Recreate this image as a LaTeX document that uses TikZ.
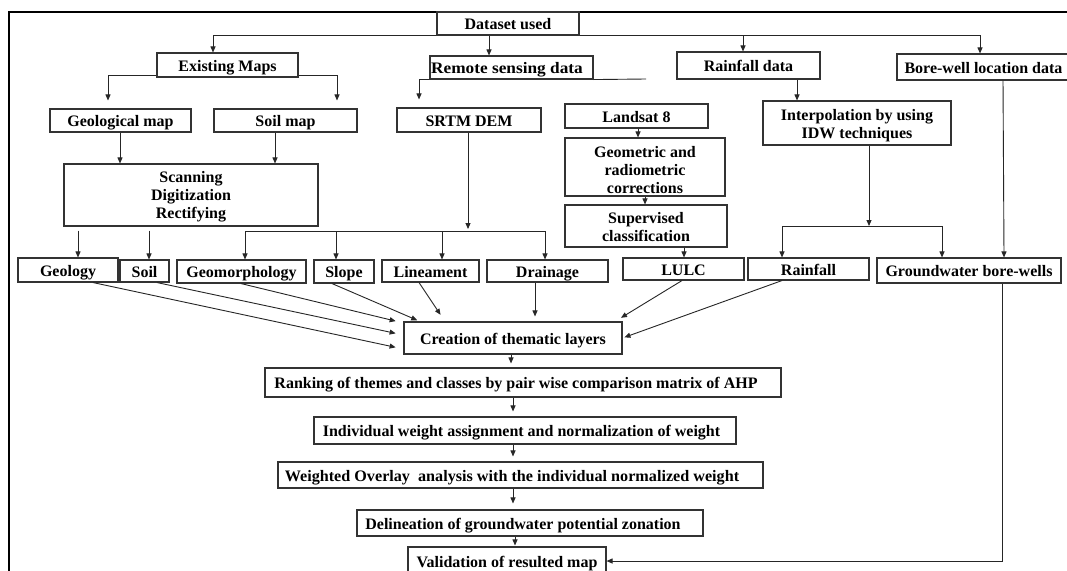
\documentclass[tikz,border=0pt]{standalone}
\usepackage{fontspec}
\setmainfont{Liberation Serif}
\usetikzlibrary{arrows.meta,calc}
\tikzset{
  box/.style={draw=black!80, line width=1.1pt, inner sep=0pt, align=center,
    font=\fontsize{16}{18}\selectfont\bfseries},
  one/.style={text height=14pt, text depth=2pt},
  ln/.style={draw=black!85, line width=0.9pt},
  arr/.style={ln, -{Triangle[length=6pt,width=5pt]}},
}
% single-line box
\newcommand{\bx}[6]{\node[box, one, minimum width={(#4)-(#2)}, minimum height={(#5)-(#3)}] (#1) at ({((#2)+(#4))/2},{((#3)+(#5))/2}) {#6};}
% multi-line box
\newcommand{\bm}[6]{\node[box, minimum width={(#4)-(#2)}, minimum height={(#5)-(#3)}] (#1) at ({((#2)+(#4))/2},{((#3)+(#5))/2}) {#6};}
\begin{document}
\begin{tikzpicture}[x=1pt,y=-1pt]
\useasboundingbox (0,0) rectangle (1067,570);
\fill[white] (0,0) rectangle (1067,570);
\clip (0,0) rectangle (1067,570);
% frame
\draw[line width=2.6pt, black] (9,575) -- (9,12) -- (1070,12);
% boxes
\bx{ds}{437}{12}{579}{35}{Dataset used}
\bx{exist}{157}{53}{298}{77}{Existing Maps}
\bx{remote}{430}{56}{593}{79}{\scalebox{1.08}[1]{Remote sensing data}\hspace*{9pt}}
\bx{rdata}{677}{52}{820}{79}{Rainfall data}
\bx{bore}{897}{54}{1070}{80}{Bore-well location data}
\bx{geomap}{50}{109}{191}{132}{Geological map}
\bx{soilmap}{214}{109}{357}{132}{Soil map}
\bx{srtm}{397}{108}{541}{132}{SRTM DEM}
\bx{landsat}{565}{104}{708}{128}{Landsat 8}
\bm{interp}{763}{101}{951}{145}{\rule{0pt}{16pt}Interpolation by using\\IDW techniques}
\bm{scan}{64}{164}{318}{226}{\rule{0pt}{15pt}Scanning\\Digitization\\Rectifying}
\bm{geomc}{565}{138}{725}{196}{\rule{0pt}{18pt}Geometric and\\radiometric\\corrections}
\bm{superv}{565}{205}{727}{247}{\rule{0pt}{14pt}Supervised\\classification}
\bx{geology}{18}{258}{118}{282}{Geology}
\bx{soil}{120}{260}{169}{282}{Soil}
\bx{geomorph}{177}{260}{306}{283}{Geomorphology}
\bx{slope}{314}{260}{374}{283}{Slope}
\bx{linea}{382}{260}{479}{282}{Lineament}
\bx{drain}{487}{260}{608}{282}{Drainage}
\bx{lulc}{623}{258}{744}{280}{LULC}
\bx{rain}{748}{258}{869}{280}{Rainfall}
\bx{gw}{877}{258}{1061}{283}{Groundwater bore-wells}
\bx{create}{404}{322}{622}{354}{Creation of thematic layers}
\bx{rank}{265}{368}{781}{397}{Ranking of themes and classes by pair wise comparison matrix of AHP\hspace*{14pt}}
\bx{indiv}{314}{417}{736}{444}{Individual weight assignment and normalization of weight\hspace*{7pt}}
\bx{wover}{278}{462}{763}{488}{\scalebox{1.01}[1]{Weighted Overlay\ \ analysis with the individual normalized weight}\hspace*{17pt}}
\bx{delin}{357}{510}{703}{536}{Delineation of groundwater potential zonation\hspace*{14pt}}
\bx{valid}{408}{547}{606}{575}{Validation of resulted map}
% coordinates
\coordinate (rext) at (646,79);
\coordinate (isplit) at (869,226);
\coordinate (ssplit) at (468,231);
\coordinate (vc) at (1002,561);
% dataset branches
\draw[arr] (ds.south west) -| (exist.north -| 213,0);
\draw[arr] (ds.south -| 489,0) -- (remote.north -| 489,0);
\draw[arr] (ds.south -| 743,0) -- (rdata.north -| 743,0);
\draw[arr] (ds.south east) -| (bore.north -| 980,0);
% existing maps
\draw[arr, shorten >=8pt] (exist.west |- 0,75) -| (geomap.north -| 108,0);
\draw[arr, shorten >=8pt] (exist.east |- 0,75) -| (soilmap.north -| 337,0);
% remote sensing
\draw[arr, shorten >=8pt] (remote.south west) -| (srtm.north -| 419,0);
\draw[ln] (remote.south east) -- (rext);
% rainfall
\draw[arr] (rdata.south -| 797,0) -- (interp.north -| 797,0);
\draw[arr] (bore.south -| 1003,0) -- (gw.north -| 1004,0);
% landsat chain
\draw[arr] (landsat.south -| 638,0) -- (geomc.north -| 638,0);
\draw[arr] (geomc.south -| 645,0) -- (superv.north -| 645,0);
\draw[arr] (superv.south -| 684,0) -- (lulc.north -| 684,0);
% interpolation split
\draw[arr] (interp.south -| isplit) -- (isplit);
\draw[arr] (isplit) -| (rain.north -| 782,0);
\draw[arr] (isplit) -| (gw.north -| 942,0);
% scanning
\draw[arr] (geomap.south -| 120,0) -- (scan.north -| 120,0);
\draw[arr] (soilmap.south -| 275,0) -- (scan.north -| 275,0);
\draw[arr] ([yshift=-4pt]scan.south -| 78,0) -- (geology.north -| 78,0);
\draw[arr] ([yshift=-4pt]scan.south -| 149,0) -- (soil.north -| 149,0);
% srtm split
\draw[arr] (srtm.south -| ssplit) -- ([yshift=2pt]ssplit);
\draw[arr] (ssplit) -| (geomorph.north -| 245,0);
\draw[arr] (ssplit) -| (drain.north -| 545,0);
\draw[arr] (ssplit -| 336,0) -- (slope.north -| 336,0);
\draw[arr] (ssplit -| 442,0) -- (linea.north -| 442,0);
% into thematic layers
\draw[arr, shorten >=8pt] (geology.south -| 93,0) -- (create.west |- 0,349);
\draw[arr, shorten >=8pt] (soil.south -| 157,0) -- (create.west |- 0,335);
\draw[arr, shorten >=8pt] (geomorph.south -| 241,0) -- (create.west |- 0,323);
\draw[arr, shorten >=3pt] (slope.south -| 332,0) -- (create.north -| 420,0);
\draw[arr, shorten >=8pt] (linea.south -| 419,0) -- (create.north -| 445,0);
\draw[arr, shorten >=5pt] (drain.south -| 535,0) -- (create.north -| 535,0);
\draw[arr, shorten >=7pt] (lulc.south -| 682,0) -- (create.north -| 615,0);
\draw[arr, shorten >=2pt] (rain.south -| 782,0) -- (create.east |- 0,338);
% main chain
\draw[arr, shorten >=4pt] (create.south -| 511,0) -- (rank.north -| 511,0);
\draw[arr, shorten >=5pt] (rank.south -| 513,0) -- (indiv.north -| 513,0);
\draw[arr, shorten >=5pt] (indiv.south -| 513,0) -- (wover.north -| 513,0);
\draw[arr, shorten >=6pt] (wover.south -| 513,0) -- (delin.north -| 513,0);
\draw[arr, shorten >=1pt] (delin.south -| 515,0) -- (valid.north -| 515,0);
% groundwater to validation
\draw[arr] (gw.south -| 1002,0) -- (vc) -- (valid.east |- vc);
\end{tikzpicture}
\end{document}
